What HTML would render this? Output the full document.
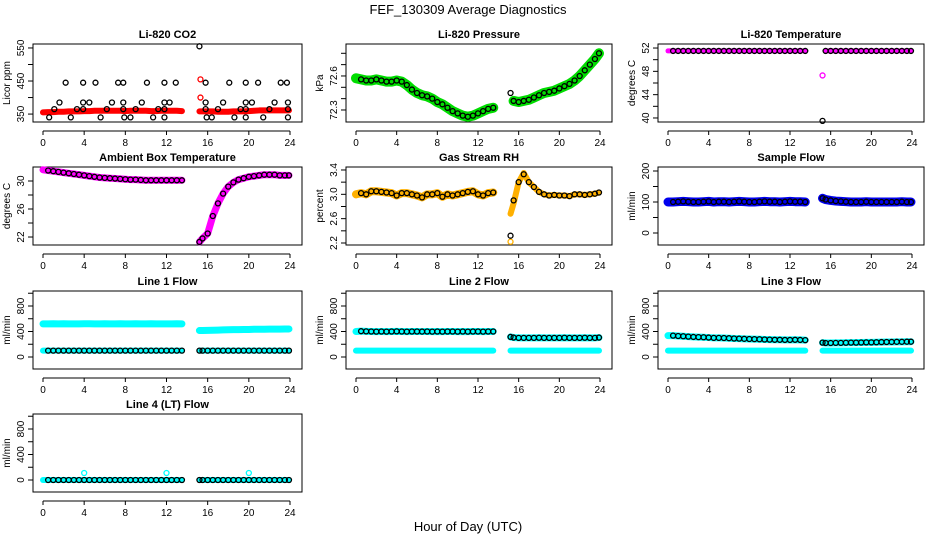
<!DOCTYPE html>
<html><head><meta charset="utf-8"><style>
body{margin:0;background:#fff;}
svg{display:block;font-family:"Liberation Sans",sans-serif;}
</style></head><body>
<svg id="chart" width="936" height="540" viewBox="0 0 936 540" xmlns="http://www.w3.org/2000/svg">
<text x="468" y="14" text-anchor="middle" font-size="13">FEF_130309  Average Diagnostics</text>
<text x="468" y="531" text-anchor="middle" font-size="13">Hour of Day (UTC)</text>
</svg>
<script>
const hA=[0,0.5,1,1.5,2,2.5,3,3.5,4,4.5,5,5.5,6,6.5,7,7.5,8,8.5,9,9.5,10,10.5,11,11.5,12,12.5,13,13.5];
const hB=[15.2,15.5,16,16.5,17,17.5,18,18.5,19,19.5,20,20.5,21,21.5,22,22.5,23,23.5,23.9];
const xTicks=[0,4,8,12,16,20,24];
const co2A=[355,356,356,357,357,358,358,358,359,359,360,360,360,360,360,360,359,360,360,360,360,359,359,360,360,360,360,359];
const co2B=[358,358,358,358,357,357,357,358,358,358,359,360,361,361,361,361,361,361,361];
const co2CircH=[0.6,1.1,1.6,2.2,2.7,3.3,3.9,3.9,3.9,4.5,5.1,5.6,6.2,6.7,7.3,7.8,7.8,7.8,7.9,8.5,9.0,9.6,10.1,10.7,11.2,11.8,11.8,11.8,11.8,12.3,12.9,15.2,15.8,15.8,15.8,15.9,16.4,17.0,17.5,18.1,18.6,19.2,19.7,19.7,19.7,19.7,20.3,20.9,21.4,22.0,22.5,23.1,23.7,23.8,23.8,23.8];
const co2CircV=[340,365,385,445,340,365,445,385,365,385,445,340,365,385,445,445,385,365,340,340,365,385,445,340,365,445,385,365,340,385,445,555,445,385,365,340,340,365,385,445,340,365,445,385,365,340,385,445,340,365,385,445,445,385,365,340];
const co2RedH=[15.3,15.3];
const co2RedV=[455,400];
const presA=[72.58,72.57,72.56,72.56,72.57,72.56,72.55,72.55,72.56,72.55,72.52,72.48,72.45,72.43,72.42,72.40,72.37,72.35,72.32,72.29,72.27,72.25,72.24,72.25,72.27,72.29,72.31,72.32];
const presB=[72.45,72.38,72.37,72.38,72.39,72.41,72.43,72.45,72.46,72.47,72.49,72.51,72.53,72.56,72.60,72.65,72.70,72.75,72.80];
const tempA=[51.5,51.5,51.5,51.5,51.5,51.5,51.5,51.5,51.5,51.5,51.5,51.5,51.5,51.5,51.5,51.5,51.5,51.5,51.5,51.5,51.5,51.5,51.5,51.5,51.5,51.5,51.5,51.5];
const tempB=[47.3,51.5,51.5,51.5,51.5,51.5,51.5,51.5,51.5,51.5,51.5,51.5,51.5,51.5,51.5,51.5,51.5,51.5,51.5];
const tempBlackB=[39.5,51.5,51.5,51.5,51.5,51.5,51.5,51.5,51.5,51.5,51.5,51.5,51.5,51.5,51.5,51.5,51.5,51.5,51.5];
const ambA=[31.6,31.5,31.4,31.3,31.2,31.1,31.0,30.9,30.8,30.7,30.6,30.5,30.45,30.4,30.35,30.3,30.25,30.2,30.2,30.15,30.1,30.1,30.1,30.1,30.1,30.1,30.1,30.1];
const ambB=[21.3,21.8,22.5,25.0,26.8,28.2,29.2,29.8,30.2,30.4,30.6,30.7,30.8,30.9,30.9,30.9,30.8,30.8,30.8];
const rhA=[3.0,3.02,3.0,3.05,3.05,3.04,3.03,3.02,2.98,3.02,3.02,3.0,2.98,2.95,3.0,3.0,3.02,2.96,3.0,2.98,3.0,3.02,3.04,3.05,3.0,2.98,3.02,3.03];
const rhB=[2.68,2.85,3.2,3.35,3.2,3.12,3.04,3.0,2.98,2.99,2.98,2.98,2.97,3.0,3.0,2.99,3.0,3.01,3.03];
const rhBlackB=[2.32,2.9,3.2,3.33,3.2,3.12,3.04,3.0,2.98,2.99,2.98,2.98,2.97,3.0,3.0,2.99,3.0,3.01,3.03];
const flowA=[100,100,101,102,101,100,100,101,102,100,101,101,100,101,102,101,100,100,101,102,101,101,100,101,102,101,101,100];
const flowB=[112,108,105,103,102,101,100,100,100,101,100,100,100,100,100,100,101,100,100];
const l1TopA=[520,520,522,520,521,520,519,520,522,521,520,520,521,520,520,522,520,520,521,520,520,521,520,520,519,520,521,520];
const l1TopB=[415,415,418,420,422,425,428,430,430,432,432,435,435,436,437,438,438,440,440];
const lowA=[100,100,100,100,100,100,100,100,100,100,100,100,100,100,100,100,100,100,100,100,100,100,100,100,100,100,100,100];
const lowB=[100,100,100,100,100,100,100,100,100,100,100,100,100,100,100,100,100,100,100];
const l2TopA=[400,405,402,400,398,400,398,400,402,400,398,400,400,399,400,398,400,398,400,400,398,400,398,400,400,398,400,400];
const l2TopB=[315,305,300,300,300,300,302,300,300,300,300,302,300,300,300,302,300,300,305];
const l3TopA=[335,335,330,325,320,315,312,310,305,300,300,298,295,290,288,285,282,280,278,275,272,270,270,268,268,270,268,265];
const l3TopB=[225,220,220,222,222,224,225,226,228,230,230,232,234,235,236,238,238,240,240];
const l4A=[0,0,0,0,0,0,0,0,0,0,0,0,0,0,0,0,0,0,0,0,0,0,0,0,0,0,0,0];
const l4B=[0,0,0,0,0,0,0,0,0,0,0,0,0,0,0,0,0,0,0];
const l4OutH=[4,12,20];
const l4OutV=[110,110,110];

const NS="http://www.w3.org/2000/svg";
const svg=document.getElementById('chart');
const colL=[33,346,658], colW=[269,266,266], rowT=[44,167,291,414], PH=78;
function mk(tag,attrs,parent){const e=document.createElementNS(NS,tag);for(const k in attrs)e.setAttribute(k,attrs[k]);(parent||svg).appendChild(e);return e;}

function panel(c,r,title,ylab,ymin,ymax,ticks,labels,key){
  const L=colL[c],T=rowT[r],W=colW[c];
  const g=mk('g',{});
  
  
  const sx=h=>L+10+h/24*(W-22);
  const sy=v=>T+(ymax-v)/(ymax-ymin)*PH;
  const box=mk('rect',{x:L,y:T,width:W,height:PH,fill:'none',stroke:'#000','stroke-width':1},g);
  
  
  const t=mk('text',{x:L+W/2,y:T-6,'text-anchor':'middle','font-size':11,'font-weight':'bold'},g);
  t.textContent=title;
  
  
  const yl=mk('text',{x:0,y:0,transform:`translate(${L-23},${T+PH/2}) rotate(-90)`,'text-anchor':'middle','font-size':10},g);
  yl.textContent=ylab;
  
  
  ticks.forEach((v,i)=>{
    const y=sy(v);
    const tk=mk('line',{x1:L-5,x2:L,y1:y,y2:y,stroke:'#000'},g);
    
    
    if(labels[i]){
      const tl=mk('text',{x:0,y:0,transform:`translate(${L-9},${y}) rotate(-90)`,'text-anchor':'middle','font-size':10},g);
      tl.textContent=labels[i];
      
      
    }
  });
  const ay=T+PH+9;
  const ax=mk('line',{x1:sx(0),x2:sx(24),y1:ay,y2:ay,stroke:'#000'},g);
  
  
  xTicks.forEach(h=>{
    const tk=mk('line',{x1:sx(h),x2:sx(h),y1:ay,y2:ay+4,stroke:'#000'},g);
    
    
    const tl=mk('text',{x:sx(h),y:ay+15,'text-anchor':'middle','font-size':10},g);
    tl.textContent=h;
    
    
  });
  return {g,sx,sy};
}
function band(p,hs,vs,color,w,name){
  const pl=mk('polyline',{points:hs.map((h,i)=>p.sx(h)+','+p.sy(vs[i])).join(' '),fill:'none',stroke:color,'stroke-width':w,'stroke-linecap':'round','stroke-linejoin':'round'},p.g);
  
  
}
function circles(p,hs,vs,color,name,skipFirst){
  hs.forEach((h,i)=>{
    if(skipFirst&&i===0)return;
    const c=mk('circle',{cx:p.sx(h),cy:p.sy(vs[i]),r:2.5,fill:'none',stroke:color,'stroke-width':1.3},p.g);
    
    
  });
}

let p;
p=panel(0,0,'Li-820 CO2','Licor ppm',326,562,[350,400,450,500,550],['350','','450','','550'],'co2');
band(p,hA,co2A,'#f00',6,'co2-band-a');band(p,hB,co2B,'#f00',6,'co2-band-b');
circles(p,co2RedH,co2RedV,'#f00','co2-red-point');
circles(p,co2CircH,co2CircV,'#000','co2-point');

p=panel(1,0,'Li-820 Pressure','kPa',72.194,72.882,[72.3,72.4,72.5,72.6,72.7,72.8],['72.3','','','72.6','',''],'pressure');
band(p,hA,presA,'#00dd00',10,'pressure-band-a');band(p,hB.slice(1),presB.slice(1),'#00dd00',10,'pressure-band-b');
circles(p,hA,presA,'#000','pressure-point',true);circles(p,hB,presB,'#000','pressure-point');

p=panel(2,0,'Li-820 Temperature','degrees C',39.31,52.69,[40,42,44,46,48,50,52],['40','','44','','48','','52'],'temp');
band(p,hA,tempA,'#ff00ff',5,'temp-band-a');band(p,hB.slice(1),tempB.slice(1),'#ff00ff',5,'temp-band-b');
circles(p,[hB[0]],[tempB[0]],'#ff00ff','temp-outlier');
circles(p,hA,tempA,'#000','temp-point',true);circles(p,hB,tempBlackB,'#000','temp-point');

p=panel(0,1,'Ambient Box Temperature','degrees C',20.86,32.0,[22,24,26,28,30],['22','','26','','30'],'ambient');
band(p,hA,ambA,'#ff00ff',7,'ambient-band-a');band(p,hB,ambB,'#ff00ff',7,'ambient-band-b');
circles(p,hA,ambA,'#000','ambient-point',true);circles(p,hB,ambB,'#000','ambient-point');

p=panel(1,1,'Gas Stream RH','percent',2.167,3.449,[2.2,2.4,2.6,2.8,3.0,3.2,3.4],['2.2','','2.6','','3.0','','3.4'],'rh');
band(p,hA,rhA,'#ffb000',8,'rh-band-a');band(p,hB,rhB,'#ffb000',6,'rh-band-b');
circles(p,[15.2],[2.22],'#ffb000','rh-outlier');
circles(p,hA,rhA,'#000','rh-point',true);circles(p,hB,rhBlackB,'#000','rh-point');

p=panel(2,1,'Sample Flow','ml/min',-38.7,212.9,[0,50,100,150,200],['0','','100','','200'],'sample');
band(p,hA,flowA,'#0000ee',9,'sample-band-a');band(p,hB,flowB,'#0000ee',9,'sample-band-b');
circles(p,hA,flowA,'#000','sample-point',true);circles(p,hB,flowB,'#000','sample-point');

const fT=[0,200,400,600,800,1000], fL=['0','','400','','800',''];
p=panel(0,2,'Line 1 Flow','ml/min',-188,1035,fT,fL,'line1');
band(p,hA,l1TopA,'#00ffff',7,'line1-top-a');band(p,hB,l1TopB,'#00ffff',7,'line1-top-b');
band(p,hA,lowA,'#00ffff',6,'line1-low-a');band(p,hB,lowB,'#00ffff',6,'line1-low-b');
circles(p,hA,lowA,'#000','line1-point',true);circles(p,hB,lowB,'#000','line1-point');

p=panel(1,2,'Line 2 Flow','ml/min',-188,1035,fT,fL,'line2');
band(p,hA,l2TopA,'#00ffff',7,'line2-top-a');band(p,hB,l2TopB,'#00ffff',7,'line2-top-b');
band(p,hA,lowA,'#00ffff',6,'line2-low-a');band(p,hB,lowB,'#00ffff',6,'line2-low-b');
circles(p,hA,l2TopA,'#000','line2-point',true);circles(p,hB,l2TopB,'#000','line2-point');

p=panel(2,2,'Line 3 Flow','ml/min',-188,1035,fT,fL,'line3');
band(p,hA,l3TopA,'#00ffff',7,'line3-top-a');band(p,hB,l3TopB,'#00ffff',7,'line3-top-b');
band(p,hA,lowA,'#00ffff',6,'line3-low-a');band(p,hB,lowB,'#00ffff',6,'line3-low-b');
circles(p,hA,l3TopA,'#000','line3-point',true);circles(p,hB,l3TopB,'#000','line3-point');

p=panel(0,3,'Line 4 (LT) Flow','ml/min',-188,1035,fT,fL,'line4');
band(p,hA,l4A,'#00ffff',6,'line4-band-a');band(p,hB,l4B,'#00ffff',6,'line4-band-b');
circles(p,l4OutH,l4OutV,'#00ffff','line4-outlier');
circles(p,hA,l4A,'#000','line4-point',true);circles(p,hB,l4B,'#000','line4-point');
</script>
</body></html>
